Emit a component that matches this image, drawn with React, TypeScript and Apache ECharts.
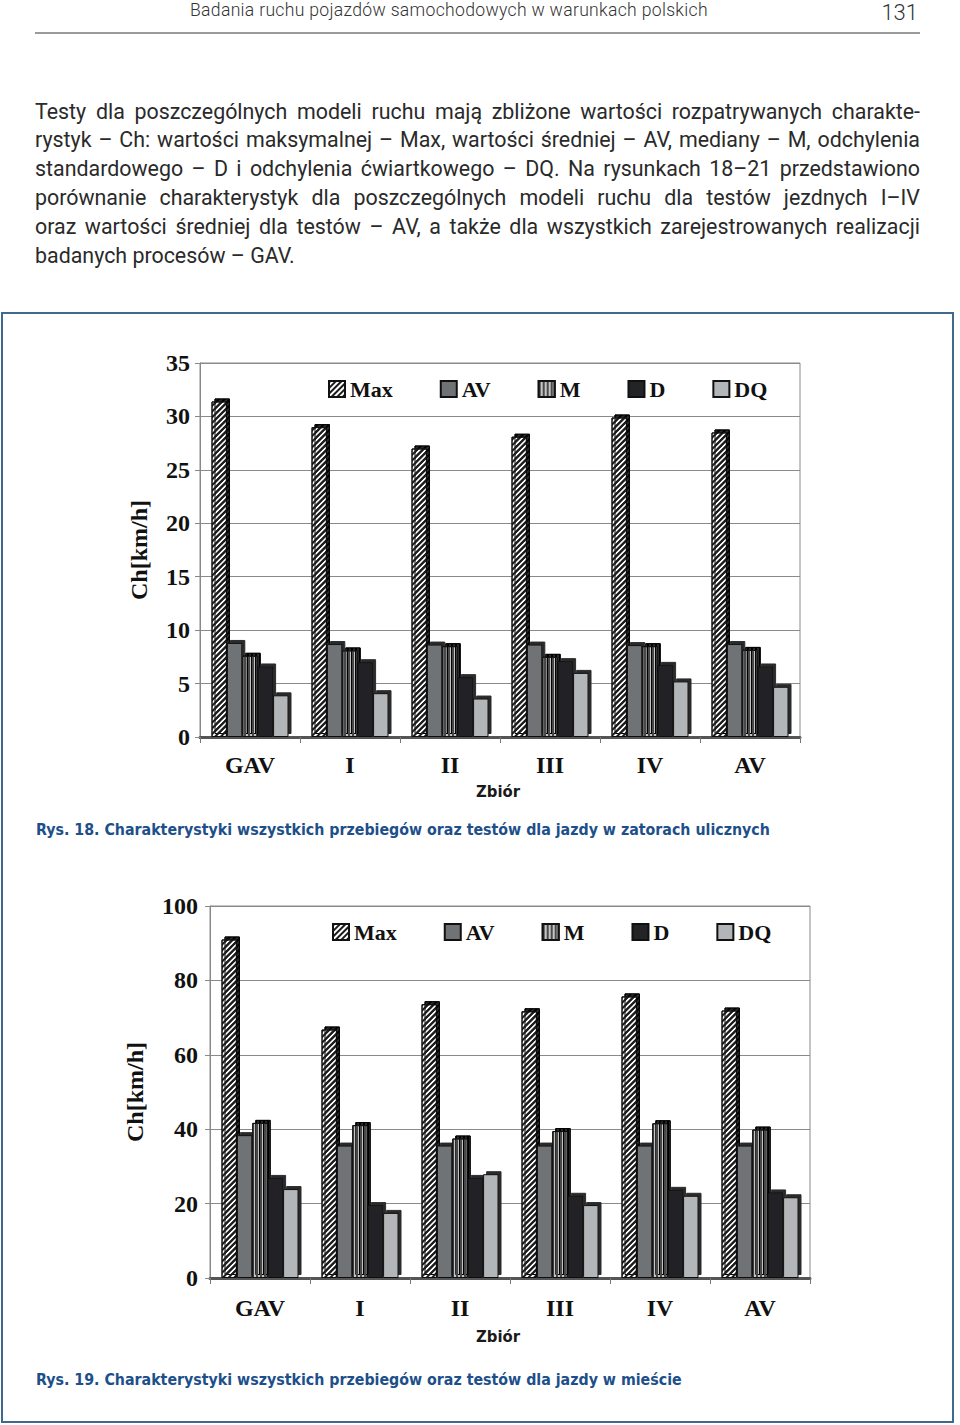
import React, { useEffect, useRef } from "react";
import * as echarts from "echarts";

const categories = ["GAV", "I", "II", "III", "IV", "AV"];
const seriesNames = ["Max", "AV", "M", "D", "DQ"];
const yTicks18 = { min: 0, max: 35, interval: 5 };
const yTicks19 = { min: 0, max: 100, interval: 20 };

const fig18Max = [31.4, 29.0, 27.0, 28.1, 29.9, 28.5];
const fig18AV = [8.8, 8.7, 8.65, 8.65, 8.6, 8.7];
const fig18M = [7.6, 8.1, 8.5, 7.5, 8.5, 8.15];
const fig18D = [6.6, 7.0, 5.6, 7.1, 6.75, 6.6];
const fig18DQ = [3.9, 4.1, 3.6, 6.0, 5.2, 4.7];

const fig19Max = [91.0, 66.8, 73.6, 71.7, 75.7, 71.9];
const fig19AV = [38.4, 35.6, 35.6, 35.6, 35.6, 35.6];
const fig19M = [41.7, 41.1, 37.5, 39.5, 41.6, 39.9];
const fig19D = [26.9, 19.6, 26.9, 22.1, 23.7, 23.0];
const fig19DQ = [23.9, 17.5, 27.9, 19.6, 22.1, 21.7];

const headerText = "Badania ruchu pojazdów samochodowych w warunkach polskich";
const pageNumber = "131";
const paragraphLines = [
  "Testy dla poszczególnych modeli ruchu mają zbliżone wartości rozpatrywanych charakte-",
  "rystyk – Ch: wartości maksymalnej – Max, wartości średniej – AV, mediany – M, odchylenia",
  "standardowego – D i odchylenia ćwiartkowego – DQ. Na rysunkach 18–21 przedstawiono",
  "porównanie charakterystyk dla poszczególnych modeli ruchu dla testów jezdnych I–IV",
  "oraz wartości średniej dla testów – AV, a także dla wszystkich zarejestrowanych realizacji",
  "badanych procesów – GAV.",
];
const caption18 = "Rys. 18. Charakterystyki wszystkich przebiegów oraz testów dla jazdy w zatorach ulicznych";
const caption19 = "Rys. 19. Charakterystyki wszystkich przebiegów oraz testów dla jazdy w mieście";
const xAxisName = "Zbiór";
const yAxisName = "Ch[km/h]";

const SERIF = "'Liberation Serif', 'DejaVu Serif', serif";
const NARROW = "'DejaVu Sans Condensed', 'Liberation Sans Narrow', 'Roboto', sans-serif";

const styles: Record<string, any> = {
  Max: {
    color: "#ffffff",
    decal: {
      symbol: "rect",
      symbolSize: 1,
      color: "#1a1a1a",
      dashArrayX: [1, 0],
      dashArrayY: [1.4, 1.8],
      rotation: -Math.PI / 4,
    },
  },
  AV: { color: "#707375" },
  M: {
    color: "#c4c4c4",
    decal: {
      symbol: "rect",
      symbolSize: 1,
      color: "#4a4a4a",
      dashArrayX: [1.6, 1.6],
      dashArrayY: [1, 0],
      rotation: 0,
    },
  },
  D: { color: "#232425" },
  DQ: { color: "#b3b6b8" },
};

function buildSeries(values: number[][], idx: number) {
  return seriesNames.map((name, i) => ({
    type: "bar",
    name,
    xAxisIndex: idx,
    yAxisIndex: idx,
    data: values[i],
    barGap: "0%",
    barCategoryGap: "23%",
    itemStyle: {
      ...styles[name],
      borderColor: "#111",
      borderWidth: 1,
      shadowColor: "#2b2b2b",
      shadowOffsetX: 3,
      shadowOffsetY: -3,
      shadowBlur: 0,
    },
  }));
}

function xAxis(idx: number, labelMargin: number, nameGap: number, nameShift: number) {
  return {
    gridIndex: idx,
    type: "category",
    data: categories,
    name: xAxisName,
    nameLocation: "middle",
    nameGap,
    nameTextStyle: {
      fontFamily: NARROW,
      fontWeight: "bold",
      fontSize: 16.5,
      color: "#1a1a1a",
      padding: [0, nameShift, 0, 0],
    },
    axisLabel: { fontFamily: SERIF, fontWeight: "bold", fontSize: 24, color: "#111", margin: labelMargin },
    axisTick: { show: true, length: 6, lineStyle: { color: "#777" } },
    axisLine: { lineStyle: { color: "#555", width: 3 } },
  };
}

function yAxis(idx: number, t: any, labelMargin: number, nameGap: number) {
  return {
    gridIndex: idx,
    type: "value",
    min: t.min,
    max: t.max,
    interval: t.interval,
    name: yAxisName,
    nameLocation: "middle",
    nameGap,
    nameRotate: 90,
    nameTextStyle: { fontFamily: SERIF, fontWeight: "bold", fontSize: 24, color: "#111" },
    axisLabel: { fontFamily: SERIF, fontWeight: "bold", fontSize: 24, color: "#111", margin: labelMargin },
    axisLine: { show: true, lineStyle: { color: "#888" } },
    axisTick: { show: true, length: 5, lineStyle: { color: "#888" } },
    splitLine: { lineStyle: { color: "#8a8a8a" } },
  };
}

function legend(left: number, top: number) {
  return {
    left,
    top,
    padding: 0,
    itemWidth: 16,
    itemHeight: 16,
    itemGap: 47,
    icon: "rect",
    data: seriesNames,
    textStyle: { fontFamily: SERIF, fontWeight: "bold", fontSize: 22, color: "#111" },
  };
}

export default function App() {
  const ref = useRef<HTMLDivElement>(null);
  useEffect(() => {
    document.body.style.margin = "0";
    if (!ref.current) return;
    const chart = echarts.init(ref.current, null, { renderer: "svg" });
    chart.setOption({
      animation: false,
      grid: [
        { left: 200, top: 363, width: 600, height: 374, show: true, borderColor: "#8a8a8a", borderWidth: 1 },
        { left: 210, top: 906, width: 600, height: 372, show: true, borderColor: "#8a8a8a", borderWidth: 1 },
      ],
      legend: [legend(328, 378), legend(332, 921)],
      xAxis: [xAxis(0, 16, 46, 4), xAxis(1, 18, 50, 24)],
      yAxis: [yAxis(0, yTicks18, 10, 49), yAxis(1, yTicks19, 12, 63)],
      series: [
        ...buildSeries([fig18Max, fig18AV, fig18M, fig18D, fig18DQ], 0),
        ...buildSeries([fig19Max, fig19AV, fig19M, fig19D, fig19DQ], 1),
      ],
      graphic: [
        {
          type: "rect",
          shape: { x: 2, y: 313, width: 951, height: 1109 },
          style: { fill: "none", stroke: "#41698f", lineWidth: 2 },
          silent: true,
        },
        {
          type: "text",
          x: 36,
          y: 829,
          style: {
            text: caption18,
            font: `bold 15.8px ${NARROW}`,
            fill: "#1d4f8a",
            verticalAlign: "middle",
          },
        },
        {
          type: "text",
          x: 36,
          y: 1379,
          style: {
            text: caption19,
            font: `bold 15.8px ${NARROW}`,
            fill: "#1d4f8a",
            verticalAlign: "middle",
          },
        },
      ],
    });
    return () => chart.dispose();
  }, []);

  return (
    <div style={{ position: "relative", width: 960, height: 1425, background: "#fff", overflow: "hidden" }}>
      <div ref={ref} style={{ position: "absolute", left: 0, top: 0, width: 960, height: 1425 }} />
      <div
        style={{
          position: "absolute",
          left: 190,
          top: 1,
          fontFamily: "Roboto, sans-serif",
          fontWeight: 300,
          fontSize: 17.6,
          lineHeight: "18px",
          letterSpacing: "0.3px",
          color: "#333",
          whiteSpace: "nowrap",
        }}
      >
        {headerText}
      </div>
      <div
        style={{
          position: "absolute",
          right: 42,
          top: 1,
          fontFamily: "Roboto, sans-serif",
          fontWeight: 300,
          fontSize: 22,
          lineHeight: "24px",
          color: "#333",
        }}
      >
        {pageNumber}
      </div>
      <div style={{ position: "absolute", left: 35, top: 32, width: 885, height: 2, background: "#9a9a9a" }} />
      <div
        style={{
          position: "absolute",
          left: 35,
          top: 97.6,
          width: 885,
          fontFamily: "Roboto, sans-serif",
          fontSize: 21.4,
          lineHeight: "28.8px",
          color: "#2a2a2a",
        }}
      >
        {paragraphLines.map((line, i) => (
          <div
            key={i}
            style={{
              textAlign: i < paragraphLines.length - 1 ? "justify" : "left",
              textAlignLast: i < paragraphLines.length - 1 ? "justify" : "left",
              whiteSpace: "nowrap",
            }}
          >
            {line}
          </div>
        ))}
      </div>
    </div>
  );
}
